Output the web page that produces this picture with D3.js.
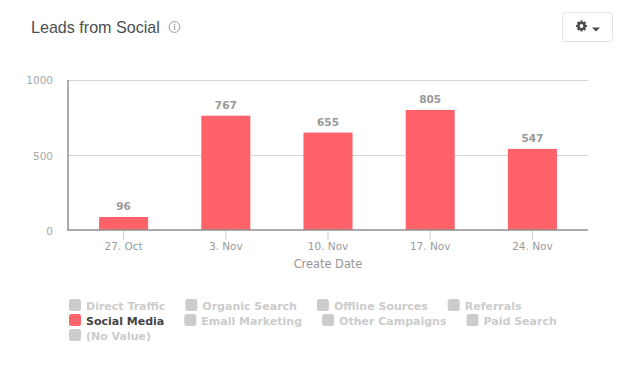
<!doctype html>
<html lang="en">
<head>
    <title>Leads from Social</title>
    <script src="https://d3js.org/d3.v7.min.js"></script>
    <style>
        html, body { margin: 0; padding: 0; background: #fff; }
        svg { display: block; }
        text { font-family: "DejaVu Sans", sans-serif; }
    </style>
</head>
<body>
    <script>
        const categories = ["27. Oct", "3. Nov", "10. Nov", "17. Nov", "24. Nov"];
        const leads = [96, 767, 655, 805, 547];
        const yTicks = [0, 500, 1000];
        const legendNames = ["Direct Traffic", "Organic Search", "Offline Sources", "Referrals",
            "Social Media", "Email Marketing", "Other Campaigns", "Paid Search", "(No Value)"];
        const activeSeries = "Social Media";

        const chartW = 629, chartH = 370;
        const barColor = "#ff6369";
        const plotLeft = 68, plotRight = 588, plotTop = 80, axisY = 230;

        const svg = d3.select("body").append("svg")
            .attr("width", chartW)
            .attr("height", chartH);

        // Title
        svg.append("text")
            .attr("x", 31).attr("y", 32.5)
            .style("font-family", "'Liberation Sans', sans-serif")
            .style("font-size", "16.1px")
            .attr("fill", "#4b4f52")
            .text("Leads from Social");

        // Info icon
        const info = svg.append("g").attr("transform", "translate(174.5,27)");
        info.append("circle").attr("r", 5.4).attr("fill", "none").attr("stroke", "#9a9fa1").attr("stroke-width", 1);
        info.append("rect").attr("x", -0.6).attr("y", -1).attr("width", 1.3).attr("height", 3.8).attr("fill", "#9a9fa1");
        info.append("rect").attr("x", -0.6).attr("y", -3.2).attr("width", 1.3).attr("height", 1.3).attr("fill", "#9a9fa1");

        // Settings button
        svg.append("rect")
            .attr("x", 562.5).attr("y", 12.5)
            .attr("width", 50).attr("height", 29).attr("rx", 3)
            .attr("fill", "#fff").attr("stroke", "#dfe3e4");
        const gear = svg.append("g").attr("transform", "translate(581.5,26)");
        gear.selectAll("rect").data(d3.range(4)).join("rect")
            .attr("x", -1.2).attr("y", -5.4).attr("width", 2.4).attr("height", 10.8)
            .attr("fill", "#4a4a4a")
            .attr("transform", d => `rotate(${d * 45})`);
        gear.append("circle").attr("r", 4.1).attr("fill", "#4a4a4a");
        gear.append("circle").attr("r", 1.9).attr("fill", "#fff");
        svg.append("path").attr("d", "M592,27.5h8l-4,4z").attr("fill", "#4a4a4a");

        // Scales
        const x = d3.scaleBand().domain(categories).range([72.5, 583.5]).paddingInner(0.52).paddingOuter(0.26);
        const y = d3.scaleLinear().domain([0, 1000]).range([231.5, 80.5]);

        // Gridlines
        svg.append("g").selectAll("line").data(yTicks.filter(d => d > 0)).join("line")
            .attr("x1", plotLeft).attr("x2", plotRight)
            .attr("y1", d => Math.floor(y(d) - 0.5) + 0.5).attr("y2", d => Math.floor(y(d) - 0.5) + 0.5)
            .attr("stroke", "#d5d5d5");

        // Y axis
        const yAxis = svg.append("g")
            .attr("transform", `translate(${plotLeft},0)`)
            .call(d3.axisLeft(y).tickValues(yTicks).tickFormat(d3.format("d")).tickSize(0).tickPadding(15));
        yAxis.select(".domain").remove();
        yAxis.selectAll("text").style("font-size", "10.5px").style("font-family", "'DejaVu Sans', sans-serif").attr("fill", "#a8a8a8");
        svg.append("line")
            .attr("x1", plotLeft).attr("x2", plotLeft)
            .attr("y1", plotTop).attr("y2", axisY)
            .attr("stroke", "#8f8f8f").attr("stroke-width", 1.5);

        // Bars
        svg.append("g").selectAll("rect").data(leads).join("rect")
            .attr("x", (d, i) => x(categories[i]))
            .attr("y", d => y(d))
            .attr("width", x.bandwidth())
            .attr("height", d => axisY - y(d))
            .attr("fill", barColor);

        // Bar labels
        svg.append("g").selectAll("text").data(leads).join("text")
            .attr("x", (d, i) => x(categories[i]) + x.bandwidth() / 2)
            .attr("y", d => y(d) - 7)
            .attr("text-anchor", "middle")
            .style("font-size", "10.5px")
            .style("font-weight", "bold")
            .attr("fill", "#999999")
            .text(d => d);

        // X axis
        const xAxis = svg.append("g")
            .attr("transform", `translate(0,${axisY})`)
            .call(d3.axisBottom(x).tickSize(10).tickPadding(3));
        xAxis.select(".domain").remove();
        xAxis.selectAll("line").attr("stroke", "#cfcfcf");
        xAxis.selectAll("text").style("font-size", "10.5px").style("font-family", "'DejaVu Sans', sans-serif").attr("fill", "#9b9b9b");
        svg.append("line")
            .attr("x1", plotLeft - 1).attr("x2", plotRight)
            .attr("y1", axisY).attr("y2", axisY)
            .attr("stroke", "#8f8f8f").attr("stroke-width", 1.5);

        svg.append("text")
            .attr("x", 328).attr("y", 268)
            .attr("text-anchor", "middle")
            .style("font-size", "11.4px")
            .attr("fill", "#969696")
            .text("Create Date");

        // Legend: flows left to right, four items per row
        const legend = svg.append("g");
        let lx = 69, row = 0;
        legendNames.forEach((name, i) => {
            if (i > 0 && i % 4 === 0) { lx = 69; row++; }
            const on = name === activeSeries;
            const ly = 299 + row * 15;
            legend.append("rect")
                .attr("x", lx).attr("y", ly)
                .attr("width", 12).attr("height", 12).attr("rx", 2.5)
                .attr("fill", on ? barColor : "#cccccc");
            const label = legend.append("text")
                .attr("x", lx + 17).attr("y", ly + 10.5)
                .style("font-size", "11px")
                .style("font-weight", "bold")
                .attr("fill", on ? "#444444" : "#cccccc")
                .text(name);
            lx += 17 + label.node().getComputedTextLength() + 20;
        });
    </script>
</body>
</html>
